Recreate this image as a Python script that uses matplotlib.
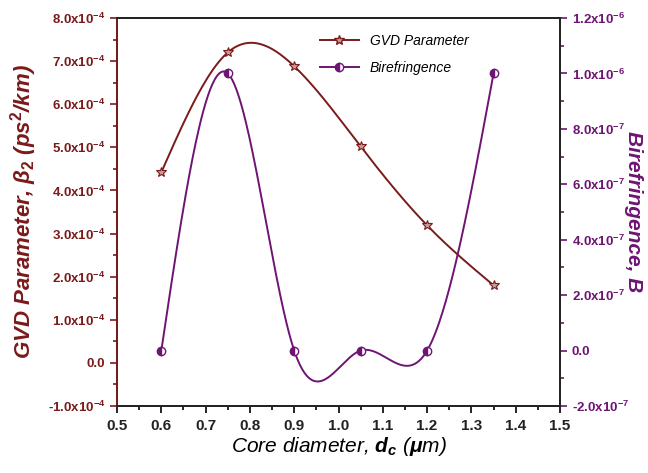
import numpy as np
import matplotlib.pyplot as plt
from matplotlib.ticker import MultipleLocator, FuncFormatter

# data
core_d = [0.6, 0.75, 0.9, 1.05, 1.2, 1.35]
gvd = [4.42e-4, 7.2e-4, 6.88e-4, 5.02e-4, 3.19e-4, 1.8e-4]
biref = [0.0, 1.0e-6, 0.0, 0.0, 0.0, 1.0e-6]

gvd_col = '#7a1a1a'
bir_col = '#6e1473'


def spline(x, y, xs):
    # natural cubic spline, like the smooth line in Origin
    x = np.asarray(x, float)
    y = np.asarray(y, float)
    n = len(x)
    h = np.diff(x)
    A = np.zeros((n, n))
    r = np.zeros(n)
    A[0, 0] = A[-1, -1] = 1
    for i in range(1, n - 1):
        A[i, i - 1] = h[i - 1]
        A[i, i] = 2 * (h[i - 1] + h[i])
        A[i, i + 1] = h[i]
        r[i] = 3 * ((y[i + 1] - y[i]) / h[i] - (y[i] - y[i - 1]) / h[i - 1])
    c = np.linalg.solve(A, r)
    out = []
    for t in xs:
        i = min(np.searchsorted(x, t, side='right') - 1, n - 2)
        i = max(i, 0)
        b = (y[i + 1] - y[i]) / h[i] - h[i] * (2 * c[i] + c[i + 1]) / 3
        d = (c[i + 1] - c[i]) / (3 * h[i])
        dx = t - x[i]
        out.append(y[i] + b * dx + c[i] * dx ** 2 + d * dx ** 3)
    return np.array(out)


def sci(v, pos, exp):
    if abs(v) < 1e-20:
        return '0.0'
    return r'%.1fx10$^{%d}$' % (v / 10 ** exp, exp)


plt.rcParams['font.family'] = ['Liberation Sans', 'DejaVu Sans']
plt.rcParams['font.weight'] = 'bold'
plt.rcParams['mathtext.fontset'] = 'custom'
plt.rcParams['mathtext.rm'] = 'Liberation Sans:bold'
plt.rcParams['mathtext.it'] = 'Liberation Sans:italic:bold'
plt.rcParams['mathtext.bf'] = 'Liberation Sans:bold'

fig = plt.figure(figsize=(6.48, 4.73), dpi=100)
ax = fig.add_axes([0.1806, 0.1416, 0.6836, 0.8204])
ax2 = ax.twinx()

xs = np.linspace(core_d[0], core_d[-1], 300)
ax.plot(xs, spline(core_d, gvd, xs), color=gvd_col, lw=1.4)
ax.plot(core_d, gvd, ls='none', marker='*', ms=7, mfc='#c89a9a', mec=gvd_col, mew=0.8)
ax.plot([], [], color=gvd_col, lw=1.4, marker='*', ms=7, mfc='#c89a9a', mec=gvd_col,
        label='GVD Parameter')

ax2.plot(xs, spline(core_d, biref, xs), color=bir_col, lw=1.4)
ax2.plot(core_d, biref, ls='none', marker='o', ms=6, fillstyle='left',
         color=bir_col, mfc=bir_col, mfcalt='white', mec=bir_col, mew=1)
ax.plot([], [], color=bir_col, lw=1.4, marker='o', ms=6, fillstyle='left',
        mfc=bir_col, mfcalt='white', mec=bir_col, label='Birefringence')

ax.set_xlim(0.5, 1.5)
ax.set_ylim(-1e-4, 8e-4)
ax2.set_ylim(-2e-7, 1.2e-6)

ax.xaxis.set_major_locator(MultipleLocator(0.1))
ax.xaxis.set_minor_locator(MultipleLocator(0.05))
ax.yaxis.set_major_locator(MultipleLocator(1e-4))
ax.yaxis.set_minor_locator(MultipleLocator(0.5e-4))
ax2.yaxis.set_major_locator(MultipleLocator(2e-7))
ax2.yaxis.set_minor_locator(MultipleLocator(1e-7))
ax.xaxis.set_major_formatter(FuncFormatter(lambda v, p: '%.1f' % v))
ax.yaxis.set_major_formatter(FuncFormatter(lambda v, p: sci(v, p, -4)))
ax2.yaxis.set_major_formatter(FuncFormatter(
    lambda v, p: sci(v, p, -6 if abs(v) >= 9.9e-7 else -7)))

ax.tick_params(axis='x', which='major', length=5, width=1.2, labelsize=11, pad=4)
ax.tick_params(axis='x', which='minor', length=3, width=1.2)
ax.tick_params(axis='y', which='major', length=5, width=1.2, colors=gvd_col, labelsize=9.5)
ax.tick_params(axis='y', which='minor', length=3, width=1.2, colors=gvd_col)
ax2.tick_params(axis='y', which='major', length=5, width=1.2, colors=bir_col, labelsize=9.5)
ax2.tick_params(axis='y', which='minor', length=3, width=1.2, colors=bir_col)
for lab in ax.get_xticklabels():
    lab.set_color('#222222')

for a in (ax, ax2):
    for s in a.spines.values():
        s.set_linewidth(1.3)
        s.set_color('#222222')
ax2.spines['left'].set_color(gvd_col)

ax.set_xlabel(r'Core diameter, $d_c$ ($\mu$m)', fontsize=15, style='italic',
              fontweight='normal', color='black', labelpad=2)
ax.set_ylabel(r'GVD Parameter, $\beta_2$ (ps$^2$/km)', fontsize=16, style='italic',
              fontweight='bold', color=gvd_col, labelpad=6)
ax2.set_ylabel('Birefringence, B', fontsize=15, style='italic', fontweight='bold',
               color=bir_col, rotation=270, labelpad=10)

ax.legend(loc='upper left', bbox_to_anchor=(0.43, 0.99), frameon=False,
          prop={'style': 'italic', 'weight': 'normal', 'size': 10},
          handlelength=2.8, labelspacing=0.9)

fig.savefig('out.png', dpi=100)
